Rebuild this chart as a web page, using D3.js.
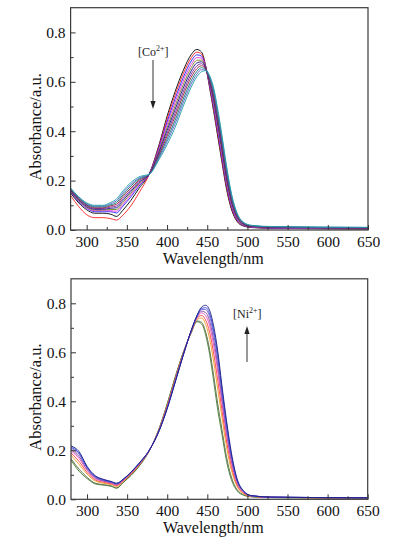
<!DOCTYPE html>
<html>
<head>
<meta charset="utf-8">
<script src="https://cdn.jsdelivr.net/npm/d3@7"></script>
<style>
  html, body { margin: 0; padding: 0; background: #fff; }
  svg { display: block; }
  svg text { font-family: 'Liberation Serif', 'Times New Roman', Times, serif !important; }
</style>
</head>
<body>
<div id="chart"></div>
<script>
// ---- data ----
const wavelengths = [280, 290, 300, 310, 320, 330, 337, 345, 355, 365, 378, 390, 400, 410, 420, 430,
                     437, 443, 448, 453, 458, 463, 468, 474, 480, 487, 495, 505, 530, 650];

// Co2+ titration: peak falls from ~0.73 (438 nm) to ~0.645 (447 nm)
const coSpectra = [
  [.150,.110,.082,.068,.068,.064,.055,.080,.120,.168,.228,.345,.460,.560,.645,.710,.731,.720,.665,.575,.480,.380,.280,.165,.085,.035,.016,.010,.007,.004],
  [.140,.095,.062,.050,.050,.046,.040,.060,.098,.150,.227,.339,.449,.546,.631,.697,.720,.712,.663,.580,.490,.391,.291,.175,.092,.039,.018,.011,.008,.005],
  [.154,.115,.088,.074,.074,.074,.069,.096,.134,.177,.228,.333,.437,.531,.616,.684,.709,.704,.661,.585,.499,.402,.302,.184,.098,.042,.019,.012,.008,.005],
  [.156,.118,.090,.078,.078,.078,.076,.103,.142,.182,.227,.327,.426,.517,.602,.670,.698,.696,.659,.590,.509,.413,.313,.194,.105,.046,.021,.013,.009,.006],
  [.158,.120,.093,.081,.081,.083,.083,.111,.149,.187,.227,.321,.414,.502,.587,.657,.687,.688,.657,.595,.518,.424,.324,.203,.111,.049,.022,.014,.010,.007],
  [.160,.123,.096,.084,.084,.088,.090,.119,.156,.192,.227,.315,.403,.488,.573,.644,.676,.681,.655,.600,.528,.435,.335,.213,.118,.053,.024,.015,.011,.008],
  [.162,.125,.099,.087,.087,.093,.097,.127,.163,.196,.227,.309,.391,.473,.558,.631,.664,.673,.653,.605,.537,.446,.346,.222,.124,.056,.026,.015,.011,.008],
  [.164,.128,.102,.090,.090,.098,.104,.135,.170,.201,.227,.303,.380,.459,.544,.618,.653,.665,.651,.610,.547,.457,.357,.232,.131,.060,.027,.016,.012,.009],
  [.166,.130,.104,.094,.094,.102,.111,.142,.178,.206,.226,.297,.368,.444,.529,.604,.642,.657,.649,.615,.556,.468,.368,.241,.137,.063,.029,.017,.013,.010],
  [.168,.133,.107,.097,.097,.107,.118,.150,.185,.210,.226,.291,.357,.430,.515,.591,.631,.649,.647,.620,.566,.479,.379,.251,.144,.067,.030,.018,.013,.010],
  [.170,.135,.110,.100,.100,.112,.125,.158,.192,.215,.226,.285,.345,.415,.500,.578,.620,.641,.645,.625,.575,.490,.390,.260,.150,.070,.032,.019,.014,.011]
];
const coColors = ['#000000', '#ff2020', '#2020ff', '#e030e0', '#808020', '#101080',
                  '#8020a0', '#902030', '#107878', '#5060d0', '#20a0a0'];

// Ni2+ titration: peak rises from ~0.725 (437 nm) to ~0.79 (447 nm)
const niSpectra = [
  [.160,.115,.085,.063,.058,.053,.045,.068,.098,.135,.200,.290,.390,.500,.600,.680,.725,.715,.670,.590,.480,.365,.270,.155,.080,.035,.017,.010,.007,.005],
  [.166,.123,.090,.066,.060,.055,.047,.069,.099,.136,.200,.289,.388,.498,.599,.681,.728,.722,.682,.608,.503,.389,.290,.172,.091,.040,.019,.011,.007,.005],
  [.180,.143,.103,.075,.066,.060,.052,.073,.103,.140,.201,.287,.383,.492,.596,.684,.734,.740,.713,.653,.559,.449,.340,.213,.119,.053,.023,.012,.008,.005],
  [.189,.155,.110,.080,.070,.063,.056,.075,.105,.142,.201,.285,.380,.489,.594,.685,.738,.750,.731,.680,.593,.485,.370,.238,.135,.060,.026,.013,.008,.006],
  [.198,.167,.118,.085,.074,.066,.059,.077,.107,.143,.201,.284,.377,.486,.592,.687,.741,.761,.749,.707,.626,.521,.400,.262,.152,.068,.029,.013,.008,.006],
  [.204,.175,.123,.089,.076,.068,.061,.079,.109,.145,.202,.283,.375,.484,.591,.688,.744,.768,.762,.725,.649,.545,.420,.279,.163,.073,.031,.014,.009,.006],
  [.209,.183,.128,.092,.078,.070,.063,.080,.110,.146,.202,.282,.373,.481,.590,.689,.746,.775,.774,.743,.671,.569,.440,.295,.174,.078,.032,.014,.009,.006],
  [.213,.189,.131,.094,.080,.071,.064,.081,.111,.147,.202,.281,.372,.480,.589,.689,.748,.779,.782,.756,.687,.586,.454,.307,.181,.081,.034,.015,.009,.006],
  [.218,.195,.135,.097,.082,.073,.066,.082,.112,.148,.202,.280,.370,.478,.588,.690,.750,.785,.792,.770,.705,.605,.470,.320,.190,.085,.035,.015,.009,.006]
];
const niColors = ['#3c7d3c', '#5e6a3a', '#e8a020', '#ff3a3a', '#e050c0', '#9040a0',
                  '#6a6ac8', '#3040e0', '#1c1c80'];

const xMajor = [300, 350, 400, 450, 500, 550, 600, 650];
const xMinor = [325, 375, 425, 475, 525, 575, 625];
const yMajor = [0, 0.2, 0.4, 0.6, 0.8];
const yMinor = [0.1, 0.3, 0.5, 0.7];

// ---- layout ----
const W = 394, H = 541;

const svg = d3.select('#chart').append('svg')
  .attr('width', W).attr('height', H)
  .attr('viewBox', `0 0 ${W} ${H}`);

function drawPanel(opt) {
  const x = d3.scaleLinear().domain([280, 650]).range([opt.left, opt.right]);
  const y = d3.scaleLinear().domain([0, 0.9]).range([opt.bottom, opt.top]);
  const g = svg.append('g');

  // spectra
  const line = d3.line()
    .x((d, i) => x(wavelengths[i]))
    .y(d => y(d))
    .curve(d3.curveMonotoneX);

  g.append('g')
    .selectAll('path')
    .data(opt.spectra)
    .join('path')
    .attr('d', line)
    .attr('fill', 'none')
    .attr('stroke', (d, i) => opt.colors[i])
    .attr('stroke-width', 0.9);

  // axes (ticks pointing inward)
  g.append('g')
    .attr('transform', `translate(0,${opt.bottom})`)
    .call(d3.axisBottom(x).tickValues(xMajor).tickSize(-5).tickPadding(6));
  g.append('g')
    .attr('transform', `translate(0,${opt.bottom})`)
    .call(d3.axisBottom(x).tickValues(xMinor).tickSize(-3).tickFormat(''));
  g.append('g')
    .attr('transform', `translate(${opt.left},0)`)
    .call(d3.axisLeft(y).tickValues(yMajor).tickSize(-5).tickPadding(5).tickFormat(d3.format('.1f')));
  g.append('g')
    .attr('transform', `translate(${opt.left},0)`)
    .call(d3.axisLeft(y).tickValues(yMinor).tickSize(-3).tickFormat(''));

  g.selectAll('.domain').remove();
  g.selectAll('.tick line').attr('stroke', '#333').attr('stroke-width', 1);
  g.selectAll('.tick text')
    .attr('fill', '#111')
    .style('font-size', '15.5px');

  // frame
  g.append('rect')
    .attr('x', opt.left).attr('y', opt.top)
    .attr('width', opt.right - opt.left).attr('height', opt.bottom - opt.top)
    .attr('fill', 'none')
    .attr('stroke', '#3a3a3a')
    .attr('stroke-width', 1.2);

  // axis titles
  g.append('text')
    .attr('x', (opt.left + opt.right) / 2 - 6)
    .attr('y', opt.bottom + 34)
    .attr('text-anchor', 'middle')
    .style('font-size', '16px')
    .attr('fill', '#111')
    .text('Wavelength/nm');

  g.append('text')
    .attr('transform', `translate(41,${(opt.top + opt.bottom) / 2 + 8}) rotate(-90)`)
    .attr('text-anchor', 'middle')
    .style('font-size', '16.5px')
    .attr('fill', '#111')
    .text('Absorbance/a.u.');

  // ion label + arrow
  const lab = g.append('text')
    .attr('x', opt.label.x).attr('y', opt.label.y)
    .style('font-size', '12px')
    .attr('fill', '#222');
  lab.append('tspan').text(opt.label.ion);
  lab.append('tspan').attr('dy', -5).style('font-size', '8px').text('2+');
  lab.append('tspan').attr('dy', 5).text(']');

  const a = opt.arrow;
  const dir = a.y2 > a.y1 ? 1 : -1;
  g.append('line')
    .attr('x1', a.x).attr('x2', a.x)
    .attr('y1', a.y1).attr('y2', a.y2 - dir * 6)
    .attr('stroke', '#333').attr('stroke-width', 1);
  g.append('path')
    .attr('d', `M${a.x},${a.y2} L${a.x - 2.6},${a.y2 - dir * 8} L${a.x + 2.6},${a.y2 - dir * 8} Z`)
    .attr('fill', '#222');
}

drawPanel({
  left: 70.6, right: 368, top: 7.7, bottom: 230,
  spectra: coSpectra, colors: coColors,
  label: { x: 138, y: 56, ion: '[Co' },
  arrow: { x: 153, y1: 60, y2: 109 }
});

drawPanel({
  left: 71, right: 367.7, top: 278.8, bottom: 499.3,
  spectra: niSpectra, colors: niColors,
  label: { x: 233, y: 318, ion: '[Ni' },
  arrow: { x: 247, y1: 362, y2: 326 }
});
</script>
</body>
</html>
